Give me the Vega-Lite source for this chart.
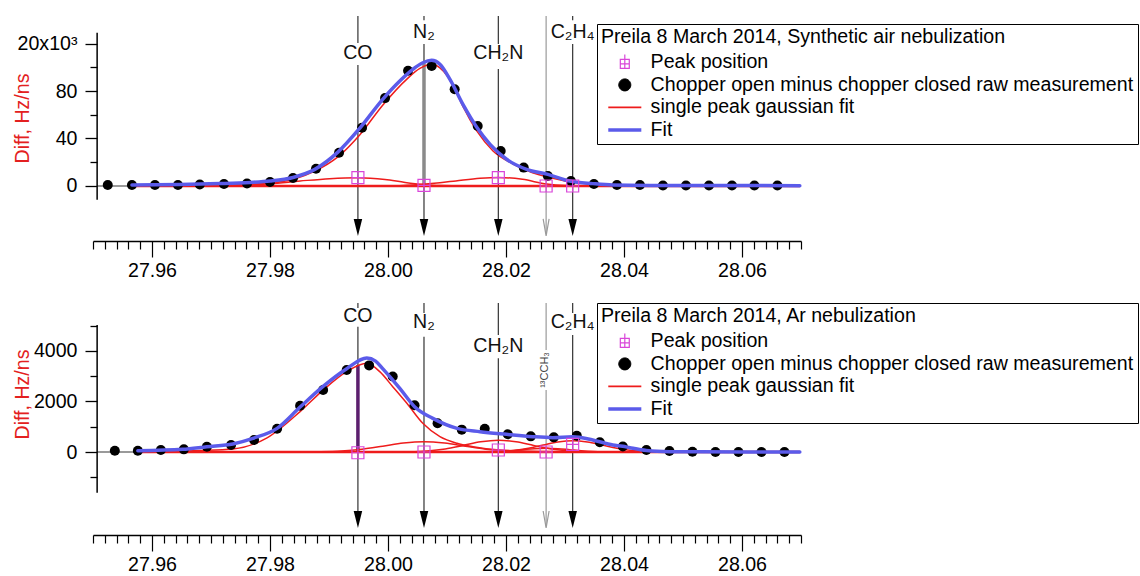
{
"$schema": "https://vega.github.io/schema/vega-lite/v6.json",
"background": "white",
"padding": {"left": 12, "top": 15, "right": 0, "bottom": 0},
"spacing": 22,
"config": {"view": {"stroke": null}, "font": "Liberation Sans", "axis": {"labelFont": "Liberation Sans", "titleFont": "Liberation Sans"}},
"resolve": {"scale": {"fill": "independent", "stroke": "independent", "shape": "independent", "strokeWidth": "independent"}},
"datasets": {
"top": [
{"k":"ax","x":27.9507,"y":-11.5,"y2":129},
{"k":"grey","x":27.9507,"y":0},{"k":"grey","x":27.9566,"y":0},
{"k":"seg","c":"k","x":27.9949,"y":143.16,"y2":120.4},
{"k":"seg","c":"k","x":27.9949,"y":101.9,"y2":-34.9},
{"k":"seg","c":"k","x":28.0061,"y":143.16,"y2":139.5},
{"k":"seg","c":"k","x":28.0061,"y":119.6,"y2":-34.9},
{"k":"seg","c":"k","x":28.0187,"y":143.16,"y2":119.6},
{"k":"seg","c":"k","x":28.0187,"y":98.5,"y2":-34.9},
{"k":"seg","c":"g","x":28.0268,"y":143.16,"y2":-40},
{"k":"seg","c":"k","x":28.0313,"y":143.16,"y2":139.5},
{"k":"seg","c":"k","x":28.0313,"y":119.6,"y2":-34.9},
{"k":"head","c":"k","x":27.9949,"y":-34.9},
{"k":"head","c":"k","x":28.0061,"y":-34.9},
{"k":"head","c":"k","x":28.0187,"y":-34.9},
{"k":"head","c":"g","x":28.0268,"y":-34.9},
{"k":"head","c":"k","x":28.0313,"y":-34.9},
{"k":"stick","x":28.0061,"y":0,"y2":103.5},
{"k":"lab","t":"CO","x":27.9949,"y":111.6},
{"k":"lab","t":"N₂","x":28.0061,"y":129.5},
{"k":"lab","t":"CH₂N","x":28.0187,"y":111.6},
{"k":"lab","t":"C₂H₄","x":28.0313,"y":129.5},
{"k":"mark","x":27.9949,"y":7},
{"k":"mark","x":28.0061,"y":0.5},
{"k":"mark","x":28.0187,"y":7},
{"k":"mark","x":28.0268,"y":0},
{"k":"mark","x":28.0313,"y":0},
{"k":"dot","x":27.9525,"y":0.8},
{"k":"dot","x":27.9566,"y":0.8},
{"k":"dot","x":27.9605,"y":0.8},
{"k":"dot","x":27.9644,"y":0.8},
{"k":"dot","x":27.9681,"y":1.3},
{"k":"dot","x":27.9722,"y":1.7},
{"k":"dot","x":27.9761,"y":2.1},
{"k":"dot","x":27.98,"y":3.4},
{"k":"dot","x":27.9839,"y":6.7},
{"k":"dot","x":27.9878,"y":14.5},
{"k":"dot","x":27.9917,"y":28},
{"k":"dot","x":27.9956,"y":49},
{"k":"dot","x":27.9995,"y":74},
{"k":"dot","x":28.0034,"y":97},
{"k":"dot","x":28.0074,"y":101},
{"k":"dot","x":28.0113,"y":81.5},
{"k":"dot","x":28.0152,"y":50.5},
{"k":"dot","x":28.0191,"y":29.5},
{"k":"dot","x":28.023,"y":15.5},
{"k":"dot","x":28.0271,"y":8.4},
{"k":"dot","x":28.031,"y":4.2},
{"k":"dot","x":28.0349,"y":1.7},
{"k":"dot","x":28.0388,"y":0.8},
{"k":"dot","x":28.0427,"y":0.8},
{"k":"dot","x":28.0466,"y":0.4},
{"k":"dot","x":28.0505,"y":0.4},
{"k":"dot","x":28.0544,"y":0.4},
{"k":"dot","x":28.0583,"y":0.4},
{"k":"dot","x":28.0621,"y":0.4},
{"k":"dot","x":28.066,"y":0.4},
{"k":"fit","x":27.9566,"y":0.8},
{"k":"fit","x":27.9647,"y":1.2},
{"k":"fit","x":27.9715,"y":2.0},
{"k":"fit","x":27.9766,"y":3.0},
{"k":"fit","x":27.98,"y":4.2},
{"k":"fit","x":27.9839,"y":7.2},
{"k":"fit","x":27.9876,"y":14},
{"k":"fit","x":27.9915,"y":28.5},
{"k":"fit","x":27.9952,"y":48.6},
{"k":"fit","x":27.9991,"y":73},
{"k":"fit","x":28.002,"y":88.4},
{"k":"fit","x":28.0042,"y":98.2},
{"k":"fit","x":28.0059,"y":103.8},
{"k":"fit","x":28.0074,"y":105.8},
{"k":"fit","x":28.0088,"y":102.5},
{"k":"fit","x":28.0105,"y":89.8},
{"k":"fit","x":28.0127,"y":68.8},
{"k":"fit","x":28.0151,"y":49.1},
{"k":"fit","x":28.0173,"y":35.1},
{"k":"fit","x":28.0201,"y":22.5},
{"k":"fit","x":28.0235,"y":14},
{"k":"fit","x":28.0271,"y":9.8},
{"k":"fit","x":28.0308,"y":4.2},
{"k":"fit","x":28.0347,"y":2.0},
{"k":"fit","x":28.0381,"y":0.8},
{"k":"fit","x":28.0444,"y":0.5},
{"k":"fit","x":28.0528,"y":0.4},
{"k":"fit","x":28.0698,"y":0.3},
{"k":"red","s":"m","x":27.9566,"y":0.3},
{"k":"red","s":"m","x":27.9681,"y":0.6},
{"k":"red","s":"m","x":27.9766,"y":1.5},
{"k":"red","s":"m","x":27.98,"y":2.5},
{"k":"red","s":"m","x":27.9839,"y":5.5},
{"k":"red","s":"m","x":27.9876,"y":12.5},
{"k":"red","s":"m","x":27.9915,"y":24.5},
{"k":"red","s":"m","x":27.9952,"y":43},
{"k":"red","s":"m","x":27.9991,"y":68},
{"k":"red","s":"m","x":28.0032,"y":90},
{"k":"red","s":"m","x":28.0054,"y":99},
{"k":"red","s":"m","x":28.0074,"y":102.5},
{"k":"red","s":"m","x":28.0088,"y":99.5},
{"k":"red","s":"m","x":28.01,"y":93},
{"k":"red","s":"m","x":28.0113,"y":82},
{"k":"red","s":"m","x":28.0127,"y":67},
{"k":"red","s":"m","x":28.0151,"y":46},
{"k":"red","s":"m","x":28.0178,"y":29.5},
{"k":"red","s":"m","x":28.0212,"y":18.5},
{"k":"red","s":"m","x":28.0245,"y":11.2},
{"k":"red","s":"m","x":28.0271,"y":7.5},
{"k":"red","s":"m","x":28.0308,"y":3.5},
{"k":"red","s":"m","x":28.0347,"y":1.5},
{"k":"red","s":"m","x":28.0393,"y":0.6},
{"k":"red","s":"m","x":28.0494,"y":0.3},
{"k":"red","s":"m","x":28.0698,"y":0.2},
{"k":"red","s":"a","x":27.9766,"y":1.0},
{"k":"red","s":"a","x":27.98,"y":1.9},
{"k":"red","s":"a","x":27.9851,"y":4.2},
{"k":"red","s":"a","x":27.9901,"y":6.2},
{"k":"red","s":"a","x":27.9949,"y":7.0},
{"k":"red","s":"a","x":27.9995,"y":5.5},
{"k":"red","s":"a","x":28.0029,"y":3.0},
{"k":"red","s":"a","x":28.0059,"y":1.3},
{"k":"red","s":"a","x":28.0088,"y":0.4},
{"k":"red","s":"a","x":28.0139,"y":0.1},
{"k":"red","s":"b","x":28.002,"y":0.3},
{"k":"red","s":"b","x":28.0059,"y":1.5},
{"k":"red","s":"b","x":28.0088,"y":2.8},
{"k":"red","s":"b","x":28.0115,"y":4.3},
{"k":"red","s":"b","x":28.0156,"y":6.5},
{"k":"red","s":"b","x":28.0187,"y":7.2},
{"k":"red","s":"b","x":28.0228,"y":5.6},
{"k":"red","s":"b","x":28.0269,"y":1.6},
{"k":"red","s":"b","x":28.0303,"y":0.4},
{"k":"red","s":"b","x":28.0342,"y":0.1},
{"k":"base","x":27.9566,"y":0},
{"k":"base","x":28.0698,"y":0}
],
"bot": [
{"k":"ax","x":27.9507,"y":-1610,"y2":5030},
{"k":"grey","x":27.9507,"y":0},{"k":"grey","x":27.9576,"y":0},
{"k":"seg","c":"k","x":27.9949,"y":5900.4,"y2":5700},
{"k":"seg","c":"k","x":27.9949,"y":4963,"y2":-2673},
{"k":"seg","c":"k","x":28.0061,"y":5900.4,"y2":5504},
{"k":"seg","c":"k","x":28.0061,"y":4566,"y2":-2673},
{"k":"seg","c":"k","x":28.0187,"y":5900.4,"y2":4633},
{"k":"seg","c":"k","x":28.0187,"y":3710,"y2":-2673},
{"k":"seg","c":"g","x":28.0268,"y":5900.4,"y2":4039},
{"k":"seg","c":"g","x":28.0268,"y":2455,"y2":-2950},
{"k":"seg","c":"k","x":28.0313,"y":5900.4,"y2":5504},
{"k":"seg","c":"k","x":28.0313,"y":4633,"y2":-2673},
{"k":"head","c":"k","x":27.9949,"y":-2673},
{"k":"head","c":"k","x":28.0061,"y":-2673},
{"k":"head","c":"k","x":28.0187,"y":-2673},
{"k":"head","c":"g","x":28.0268,"y":-2673},
{"k":"head","c":"k","x":28.0313,"y":-2673},
{"k":"stick","x":27.9949,"y":0,"y2":3445},
{"k":"lab","t":"CO","x":27.9949,"y":5386},
{"k":"lab","t":"N₂","x":28.0061,"y":5148},
{"k":"lab","t":"CH₂N","x":28.0187,"y":4198},
{"k":"lab","t":"C₂H₄","x":28.0313,"y":5148},
{"k":"rlab","t":"¹³CCH₃","x":28.0266,"y":3247},
{"k":"mark","x":27.9949,"y":-30},
{"k":"mark","x":28.0061,"y":0},
{"k":"mark","x":28.0187,"y":80},
{"k":"mark","x":28.0268,"y":0},
{"k":"mark","x":28.0313,"y":300},
{"k":"dot","x":27.9537,"y":50},
{"k":"dot","x":27.9576,"y":50},
{"k":"dot","x":27.9615,"y":80},
{"k":"dot","x":27.9654,"y":105},
{"k":"dot","x":27.9693,"y":210},
{"k":"dot","x":27.9734,"y":277},
{"k":"dot","x":27.9773,"y":475},
{"k":"dot","x":27.9812,"y":924},
{"k":"dot","x":27.9851,"y":1835},
{"k":"dot","x":27.989,"y":2455},
{"k":"dot","x":27.993,"y":3247},
{"k":"dot","x":27.9968,"y":3430},
{"k":"dot","x":28.0008,"y":2990},
{"k":"dot","x":28.0045,"y":1850},
{"k":"dot","x":28.0084,"y":1135},
{"k":"dot","x":28.0125,"y":885},
{"k":"dot","x":28.0164,"y":920},
{"k":"dot","x":28.0203,"y":700},
{"k":"dot","x":28.0242,"y":620},
{"k":"dot","x":28.0281,"y":580},
{"k":"dot","x":28.032,"y":640},
{"k":"dot","x":28.0359,"y":383},
{"k":"dot","x":28.0398,"y":220},
{"k":"dot","x":28.0438,"y":79},
{"k":"dot","x":28.0477,"y":40},
{"k":"dot","x":28.0516,"y":13},
{"k":"dot","x":28.0555,"y":0},
{"k":"dot","x":28.0594,"y":0},
{"k":"dot","x":28.0633,"y":0},
{"k":"dot","x":28.0672,"y":0},
{"k":"fit","x":27.9576,"y":51},
{"k":"fit","x":27.9652,"y":107},
{"k":"fit","x":27.9693,"y":210},
{"k":"fit","x":27.9737,"y":317},
{"k":"fit","x":27.9771,"y":541},
{"k":"fit","x":27.9812,"y":937},
{"k":"fit","x":27.9851,"y":1780},
{"k":"fit","x":27.989,"y":2600},
{"k":"fit","x":27.993,"y":3300},
{"k":"fit","x":27.9964,"y":3720},
{"k":"fit","x":27.9979,"y":3600},
{"k":"fit","x":27.9991,"y":3300},
{"k":"fit","x":28.002,"y":2520},
{"k":"fit","x":28.0045,"y":1795},
{"k":"fit","x":28.0076,"y":1333},
{"k":"fit","x":28.0117,"y":937},
{"k":"fit","x":28.0156,"y":805},
{"k":"fit","x":28.0201,"y":700},
{"k":"fit","x":28.0245,"y":607},
{"k":"fit","x":28.0279,"y":568},
{"k":"fit","x":28.0313,"y":607},
{"k":"fit","x":28.0347,"y":475},
{"k":"fit","x":28.0381,"y":277},
{"k":"fit","x":28.0398,"y":225},
{"k":"fit","x":28.041,"y":170},
{"k":"fit","x":28.0438,"y":60},
{"k":"fit","x":28.0477,"y":13},
{"k":"fit","x":28.0528,"y":5},
{"k":"fit","x":28.0698,"y":0},
{"k":"red","s":"m","x":27.9576,"y":13},
{"k":"red","s":"m","x":27.9681,"y":60},
{"k":"red","s":"m","x":27.9737,"y":120},
{"k":"red","s":"m","x":27.9795,"y":560},
{"k":"red","s":"m","x":27.9851,"y":1600},
{"k":"red","s":"m","x":27.989,"y":2450},
{"k":"red","s":"m","x":27.993,"y":3181},
{"k":"red","s":"m","x":27.9964,"y":3511},
{"k":"red","s":"m","x":27.9986,"y":3181},
{"k":"red","s":"m","x":28.0008,"y":2587},
{"k":"red","s":"m","x":28.0032,"y":1927},
{"k":"red","s":"m","x":28.0059,"y":1135},
{"k":"red","s":"m","x":28.0088,"y":607},
{"k":"red","s":"m","x":28.0117,"y":343},
{"k":"red","s":"m","x":28.0144,"y":211},
{"k":"red","s":"m","x":28.0189,"y":80},
{"k":"red","s":"m","x":28.0257,"y":20},
{"k":"red","s":"m","x":28.0359,"y":0},
{"k":"red","s":"m","x":28.0698,"y":0},
{"k":"red","s":"n","x":27.9851,"y":2},
{"k":"red","s":"n","x":27.9886,"y":11},
{"k":"red","s":"n","x":27.9921,"y":40},
{"k":"red","s":"n","x":27.9956,"y":112},
{"k":"red","s":"n","x":27.9991,"y":230},
{"k":"red","s":"n","x":28.0026,"y":355},
{"k":"red","s":"n","x":28.0061,"y":410},
{"k":"red","s":"n","x":28.0096,"y":355},
{"k":"red","s":"n","x":28.0131,"y":230},
{"k":"red","s":"n","x":28.0166,"y":112},
{"k":"red","s":"n","x":28.0201,"y":40},
{"k":"red","s":"n","x":28.0236,"y":11},
{"k":"red","s":"n","x":28.0271,"y":2},
{"k":"red","s":"c","x":28.0007,"y":2},
{"k":"red","s":"c","x":28.0037,"y":11},
{"k":"red","s":"c","x":28.0067,"y":44},
{"k":"red","s":"c","x":28.0097,"y":123},
{"k":"red","s":"c","x":28.0127,"y":259},
{"k":"red","s":"c","x":28.0157,"y":405},
{"k":"red","s":"c","x":28.0187,"y":470},
{"k":"red","s":"c","x":28.0217,"y":405},
{"k":"red","s":"c","x":28.0247,"y":259},
{"k":"red","s":"c","x":28.0277,"y":123},
{"k":"red","s":"c","x":28.0307,"y":44},
{"k":"red","s":"c","x":28.0337,"y":11},
{"k":"red","s":"c","x":28.0367,"y":2},
{"k":"red","s":"t","x":28.0148,"y":1},
{"k":"red","s":"t","x":28.0168,"y":7},
{"k":"red","s":"t","x":28.0188,"y":20},
{"k":"red","s":"t","x":28.0208,"y":49},
{"k":"red","s":"t","x":28.0228,"y":91},
{"k":"red","s":"t","x":28.0248,"y":132},
{"k":"red","s":"t","x":28.0268,"y":150},
{"k":"red","s":"t","x":28.0288,"y":132},
{"k":"red","s":"t","x":28.0308,"y":91},
{"k":"red","s":"t","x":28.0328,"y":49},
{"k":"red","s":"t","x":28.0348,"y":20},
{"k":"red","s":"t","x":28.0368,"y":7},
{"k":"red","s":"t","x":28.0388,"y":1},
{"k":"red","s":"e","x":28.0163,"y":5},
{"k":"red","s":"e","x":28.0188,"y":20},
{"k":"red","s":"e","x":28.0213,"y":61},
{"k":"red","s":"e","x":28.0238,"y":146},
{"k":"red","s":"e","x":28.0263,"y":273},
{"k":"red","s":"e","x":28.0288,"y":397},
{"k":"red","s":"e","x":28.0313,"y":450},
{"k":"red","s":"e","x":28.0338,"y":397},
{"k":"red","s":"e","x":28.0363,"y":273},
{"k":"red","s":"e","x":28.0388,"y":146},
{"k":"red","s":"e","x":28.0413,"y":61},
{"k":"red","s":"e","x":28.0438,"y":20},
{"k":"red","s":"e","x":28.0463,"y":5},
{"k":"base","x":27.9576,"y":0},
{"k":"base","x":28.0698,"y":0}
],
"legendItems": [
{"s":"Peak position","x":null,"y":null},
{"s":"Chopper open minus chopper closed raw measurement","x":null,"y":null},
{"s":"single peak gaussian fit","x":null,"y":null},
{"s":"Fit","x":null,"y":null}
]
},
"vconcat": [
{
"width": 708, "height": 225,
"resolve": {"scale": {"x": "independent", "y": "independent"}, "axis": {"x": "independent", "y": "independent"}},
"layer": [
{"layer": [
{"data":{"name":"top"},"transform":[{"filter":"datum.k=='grey'"}],"mark":{"type":"line","color":"#9a9a9a","strokeWidth":2},
 "encoding":{
  "x":{"field":"x","type":"quantitative","scale":{"domain":[27.95,28.07],"nice":false,"zero":false},
   "axis":{"orient":"bottom","title":null,"values":[27.96,27.98,28.0,28.02,28.04,28.06],"format":".2f","tickSize":16,
    "labelPadding":4,"labelFontSize":19.6,"labelColor":"black","tickColor":"black","tickWidth":1.2,"domainColor":"black","domainWidth":1.5,"grid":false,"labelOverlap":false,"labelFlush":false}},
  "y":{"field":"y","type":"quantitative","scale":{"domain":[-46.32,143.16],"nice":false,"zero":false},
   "axis":{"orient":"left","title":"Diff, Hz/ns","values":[0,40,80,120],"format":"d",
    "labelExpr":"datum.value==120 ? '20x10³' : datum.label",
    "tickSize":12,"offset":-4,"domain":false,"grid":false,"labelPadding":8,"labelFontSize":19.6,"labelColor":"black","tickColor":"black","tickWidth":1.3,
    "titleColor":"#e32020","titleFontSize":19.6,"titleFontWeight":"normal","titleX":-75,"titleY":102,"titleAngle":270,"titleAlign":"center","titleBaseline":"middle","labelOverlap":false,"labelFlush":false}}}},
{"data":{"name":"top"},"transform":[{"filter":"datum.k=='seg'"}],"mark":{"type":"rule","strokeWidth":1.2},"encoding":{"x":{"field":"x","type":"quantitative"},"y":{"field":"y","type":"quantitative"},"y2":{"field":"y2"},"color":{"condition":{"test":"datum.c=='g'","value":"#9a9a9a"},"value":"#333333"}}},
{"data":{"name":"top"},"transform":[{"filter":"datum.k=='stick'"}],"mark":{"type":"rule","strokeWidth":3.5,"color":"#8a8a8a"},"encoding":{"x":{"field":"x","type":"quantitative"},"y":{"field":"y","type":"quantitative"},"y2":{"field":"y2"}}},
{"data":{"name":"top"},"transform":[{"filter":"datum.k=='base'"}],"mark":{"type":"line","color":"#ee1c1c","strokeWidth":2.5},"encoding":{"x":{"field":"x","type":"quantitative"},"y":{"field":"y","type":"quantitative"}}},
{"data":{"name":"top"},"transform":[{"filter":"datum.k=='red'"}],"mark":{"type":"line","color":"#ee1c1c","strokeWidth":1.5,"interpolate":"monotone"},"encoding":{"x":{"field":"x","type":"quantitative"},"y":{"field":"y","type":"quantitative"},"detail":{"field":"s"}}},
{"data":{"name":"top"},"transform":[{"filter":"datum.k=='dot'"}],"mark":{"type":"point","shape":"circle","filled":true,"color":"black","size":100,"opacity":1},"encoding":{"x":{"field":"x","type":"quantitative"},"y":{"field":"y","type":"quantitative"}}},
{"data":{"name":"top"},"transform":[{"filter":"datum.k=='fit'"}],"mark":{"type":"line","color":"#5b5bea","strokeWidth":3.5,"interpolate":"monotone","strokeCap":"round"},"encoding":{"x":{"field":"x","type":"quantitative"},"y":{"field":"y","type":"quantitative"}}},
{"data":{"name":"top"},"transform":[{"filter":"datum.k=='mark'"}],"mark":{"type":"point","shape":"M-1,-1H1V1H-1Z M-1,0H1 M0,-1V1","filled":false,"color":"#d946d9","strokeWidth":1.2,"size":144,"opacity":1},"encoding":{"x":{"field":"x","type":"quantitative"},"y":{"field":"y","type":"quantitative"}}},
{"data":{"name":"top"},"transform":[{"filter":"datum.k=='head' && datum.c=='k'"}],"mark":{"type":"point","shape":"M-0.5,-1L0.5,-1L0,1Z","filled":true,"color":"black","size":289,"opacity":1},"encoding":{"x":{"field":"x","type":"quantitative"},"y":{"field":"y","type":"quantitative"}}},
{"data":{"name":"top"},"transform":[{"filter":"datum.k=='head' && datum.c=='g'"}],"mark":{"type":"point","shape":"M-0.35,-1L0,1L0.35,-1","filled":false,"color":"#9a9a9a","strokeWidth":1.2,"size":289,"opacity":1},"encoding":{"x":{"field":"x","type":"quantitative"},"y":{"field":"y","type":"quantitative"}}},
{"data":{"name":"top"},"transform":[{"filter":"datum.k=='lab'"}],"mark":{"type":"text","fontSize":19.6,"color":"#111111","align":"center","baseline":"middle"},"encoding":{"x":{"field":"x","type":"quantitative"},"y":{"field":"y","type":"quantitative"},"text":{"field":"t"}}},
{"data":{"name":"legendItems"},"mark":{"type":"point","filled":true,"size":196,"clip":true,"opacity":1},
 "encoding":{
  "x":{"field":"x","type":"quantitative"},"y":{"field":"y","type":"quantitative"},
  "fill":{"field":"s","type":"nominal","scale":{"domain":["Peak position","Chopper open minus chopper closed raw measurement","single peak gaussian fit","Fit"],"range":["transparent","black","transparent","transparent"]},
   "legend":{"title":"Preila 8 March 2014, Synthetic air nebulization","orient":"none","legendX":504,"legendY":8,"direction":"vertical","strokeColor":"black","fillColor":"white","padding":4,"symbolOpacity":1,
    "titleFontSize":19.6,"titleFontWeight":"normal","titleColor":"black","titlePadding":5,"titleLimit":0,"labelFontSize":19.6,"labelColor":"black","labelLimit":0,"symbolSize":196,"symbolOffset":14,"labelOffset":16,"rowPadding":1.5}},
  "stroke":{"field":"s","type":"nominal","scale":{"domain":["Peak position","Chopper open minus chopper closed raw measurement","single peak gaussian fit","Fit"],"range":["#d946d9","black","#ee1c1c","#5b5bea"]}},
  "shape":{"field":"s","type":"nominal","scale":{"domain":["Peak position","Chopper open minus chopper closed raw measurement","single peak gaussian fit","Fit"],"range":["M-0.64,-0.43H0.64V0.86H-0.64Z M-0.64,0.21H0.64 M0,-1.14V0.86","M-0.86,0A0.86,0.86 0 1,1 0.86,0A0.86,0.86 0 1,1 -0.86,0Z","M-2.36,0H2.36","M-2.36,0H2.36"]}},
  "strokeWidth":{"field":"s","type":"nominal","scale":{"type":"ordinal","domain":["Peak position","Chopper open minus chopper closed raw measurement","single peak gaussian fit","Fit"],"range":[1.2,1,1.6,3.5]}}
 }}
]},
{"data":{"name":"top"},"transform":[{"filter":"datum.k=='ax'"}],"mark":{"type":"rule","color":"black","strokeWidth":1.5},
 "encoding":{
  "x":{"field":"x","type":"quantitative","scale":{"domain":[27.95,28.07],"nice":false,"zero":false},
   "axis":{"orient":"bottom","title":null,"values":[27.95,27.952,27.954,27.956,27.958,27.962,27.964,27.966,27.968,27.97,27.972,27.974,27.976,27.978,27.982,27.984,27.986,27.988,27.99,27.992,27.994,27.996,27.998,28.002,28.004,28.006,28.008,28.01,28.012,28.014,28.016,28.018,28.022,28.024,28.026,28.028,28.03,28.032,28.034,28.036,28.038,28.042,28.044,28.046,28.048,28.05,28.052,28.054,28.056,28.058,28.062,28.064,28.066,28.068,28.07],
    "labels":false,"domain":false,"tickSize":8,"tickColor":"black","tickWidth":1.2,"grid":false}},
  "y":{"field":"y","type":"quantitative","scale":{"domain":[-46.32,143.16],"nice":false,"zero":false},
   "axis":{"orient":"left","title":null,"values":[20,60,100],"labels":false,"domain":false,"tickSize":7,"offset":-4,"tickColor":"black","tickWidth":1.3,"grid":false}},
  "y2":{"field":"y2"}}}
]
},
{
"width": 708, "height": 232,
"resolve": {"scale": {"x": "independent", "y": "independent"}, "axis": {"x": "independent", "y": "independent"}},
"layer": [
{"layer": [
{"data":{"name":"bot"},"transform":[{"filter":"datum.k=='grey'"}],"mark":{"type":"line","color":"#9a9a9a","strokeWidth":2},
 "encoding":{
  "x":{"field":"x","type":"quantitative","scale":{"domain":[27.95,28.07],"nice":false,"zero":false},
   "axis":{"orient":"bottom","title":null,"values":[27.96,27.98,28.0,28.02,28.04,28.06],"format":".2f","tickSize":16,
    "labelPadding":4,"labelFontSize":19.6,"labelColor":"black","tickColor":"black","tickWidth":1.2,"domainColor":"black","domainWidth":1.5,"grid":false,"labelOverlap":false,"labelFlush":false}},
  "y":{"field":"y","type":"quantitative","scale":{"domain":[-3286.8,5900.4],"nice":false,"zero":false},
   "axis":{"orient":"left","title":"Diff, Hz/ns","values":[0,2000,4000],"format":"d",
    "tickSize":12,"offset":-4,"domain":false,"grid":false,"labelPadding":8,"labelFontSize":19.6,"labelColor":"black","tickColor":"black","tickWidth":1.3,
    "titleColor":"#e32020","titleFontSize":19.6,"titleFontWeight":"normal","titleX":-75,"titleY":91,"titleAngle":270,"titleAlign":"center","titleBaseline":"middle","labelOverlap":false,"labelFlush":false}}}},
{"data":{"name":"bot"},"transform":[{"filter":"datum.k=='seg'"}],"mark":{"type":"rule","strokeWidth":1.2},"encoding":{"x":{"field":"x","type":"quantitative"},"y":{"field":"y","type":"quantitative"},"y2":{"field":"y2"},"color":{"condition":{"test":"datum.c=='g'","value":"#9a9a9a"},"value":"#333333"}}},
{"data":{"name":"bot"},"transform":[{"filter":"datum.k=='stick'"}],"mark":{"type":"rule","strokeWidth":3.5,"color":"#5c1f6e"},"encoding":{"x":{"field":"x","type":"quantitative"},"y":{"field":"y","type":"quantitative"},"y2":{"field":"y2"}}},
{"data":{"name":"bot"},"transform":[{"filter":"datum.k=='base'"}],"mark":{"type":"line","color":"#ee1c1c","strokeWidth":2.5},"encoding":{"x":{"field":"x","type":"quantitative"},"y":{"field":"y","type":"quantitative"}}},
{"data":{"name":"bot"},"transform":[{"filter":"datum.k=='red'"}],"mark":{"type":"line","color":"#ee1c1c","strokeWidth":1.5,"interpolate":"monotone"},"encoding":{"x":{"field":"x","type":"quantitative"},"y":{"field":"y","type":"quantitative"},"detail":{"field":"s"}}},
{"data":{"name":"bot"},"transform":[{"filter":"datum.k=='dot'"}],"mark":{"type":"point","shape":"circle","filled":true,"color":"black","size":100,"opacity":1},"encoding":{"x":{"field":"x","type":"quantitative"},"y":{"field":"y","type":"quantitative"}}},
{"data":{"name":"bot"},"transform":[{"filter":"datum.k=='fit'"}],"mark":{"type":"line","color":"#5b5bea","strokeWidth":3.5,"interpolate":"monotone","strokeCap":"round"},"encoding":{"x":{"field":"x","type":"quantitative"},"y":{"field":"y","type":"quantitative"}}},
{"data":{"name":"bot"},"transform":[{"filter":"datum.k=='mark'"}],"mark":{"type":"point","shape":"M-1,-1H1V1H-1Z M-1,0H1 M0,-1V1","filled":false,"color":"#d946d9","strokeWidth":1.2,"size":144,"opacity":1},"encoding":{"x":{"field":"x","type":"quantitative"},"y":{"field":"y","type":"quantitative"}}},
{"data":{"name":"bot"},"transform":[{"filter":"datum.k=='head' && datum.c=='k'"}],"mark":{"type":"point","shape":"M-0.5,-1L0.5,-1L0,1Z","filled":true,"color":"black","size":289,"opacity":1},"encoding":{"x":{"field":"x","type":"quantitative"},"y":{"field":"y","type":"quantitative"}}},
{"data":{"name":"bot"},"transform":[{"filter":"datum.k=='head' && datum.c=='g'"}],"mark":{"type":"point","shape":"M-0.35,-1L0,1L0.35,-1","filled":false,"color":"#9a9a9a","strokeWidth":1.2,"size":289,"opacity":1},"encoding":{"x":{"field":"x","type":"quantitative"},"y":{"field":"y","type":"quantitative"}}},
{"data":{"name":"bot"},"transform":[{"filter":"datum.k=='lab'"}],"mark":{"type":"text","fontSize":19.6,"color":"#111111","align":"center","baseline":"middle"},"encoding":{"x":{"field":"x","type":"quantitative"},"y":{"field":"y","type":"quantitative"},"text":{"field":"t"}}},
{"data":{"name":"bot"},"transform":[{"filter":"datum.k=='rlab'"}],"mark":{"type":"text","fontSize":11,"color":"#444444","align":"center","baseline":"middle","angle":270},"encoding":{"x":{"field":"x","type":"quantitative"},"y":{"field":"y","type":"quantitative"},"text":{"field":"t"}}},
{"data":{"name":"legendItems"},"mark":{"type":"point","filled":true,"size":196,"clip":true,"opacity":1},
 "encoding":{
  "x":{"field":"x","type":"quantitative"},"y":{"field":"y","type":"quantitative"},
  "fill":{"field":"s","type":"nominal","scale":{"domain":["Peak position","Chopper open minus chopper closed raw measurement","single peak gaussian fit","Fit"],"range":["transparent","black","transparent","transparent"]},
   "legend":{"title":"Preila 8 March 2014, Ar nebulization","orient":"none","legendX":504,"legendY":0,"direction":"vertical","strokeColor":"black","fillColor":"white","padding":4,"symbolOpacity":1,
    "titleFontSize":19.6,"titleFontWeight":"normal","titleColor":"black","titlePadding":5,"titleLimit":0,"labelFontSize":19.6,"labelColor":"black","labelLimit":0,"symbolSize":196,"symbolOffset":14,"labelOffset":16,"rowPadding":1.5}},
  "stroke":{"field":"s","type":"nominal","scale":{"domain":["Peak position","Chopper open minus chopper closed raw measurement","single peak gaussian fit","Fit"],"range":["#d946d9","black","#ee1c1c","#5b5bea"]}},
  "shape":{"field":"s","type":"nominal","scale":{"domain":["Peak position","Chopper open minus chopper closed raw measurement","single peak gaussian fit","Fit"],"range":["M-0.64,-0.43H0.64V0.86H-0.64Z M-0.64,0.21H0.64 M0,-1.14V0.86","M-0.86,0A0.86,0.86 0 1,1 0.86,0A0.86,0.86 0 1,1 -0.86,0Z","M-2.36,0H2.36","M-2.36,0H2.36"]}},
  "strokeWidth":{"field":"s","type":"nominal","scale":{"type":"ordinal","domain":["Peak position","Chopper open minus chopper closed raw measurement","single peak gaussian fit","Fit"],"range":[1.2,1,1.6,3.5]}}
 }}
]},
{"data":{"name":"bot"},"transform":[{"filter":"datum.k=='ax'"}],"mark":{"type":"rule","color":"black","strokeWidth":1.5},
 "encoding":{
  "x":{"field":"x","type":"quantitative","scale":{"domain":[27.95,28.07],"nice":false,"zero":false},
   "axis":{"orient":"bottom","title":null,"values":[27.95,27.952,27.954,27.956,27.958,27.962,27.964,27.966,27.968,27.97,27.972,27.974,27.976,27.978,27.982,27.984,27.986,27.988,27.99,27.992,27.994,27.996,27.998,28.002,28.004,28.006,28.008,28.01,28.012,28.014,28.016,28.018,28.022,28.024,28.026,28.028,28.03,28.032,28.034,28.036,28.038,28.042,28.044,28.046,28.048,28.05,28.052,28.054,28.056,28.058,28.062,28.064,28.066,28.068,28.07],
    "labels":false,"domain":false,"tickSize":8,"tickColor":"black","tickWidth":1.2,"grid":false}},
  "y":{"field":"y","type":"quantitative","scale":{"domain":[-3286.8,5900.4],"nice":false,"zero":false},
   "axis":{"orient":"left","title":null,"values":[-1000,1000,3000,5000],"labels":false,"domain":false,"tickSize":7,"offset":-4,"tickColor":"black","tickWidth":1.3,"grid":false}},
  "y2":{"field":"y2"}}}
]
}
]
}
